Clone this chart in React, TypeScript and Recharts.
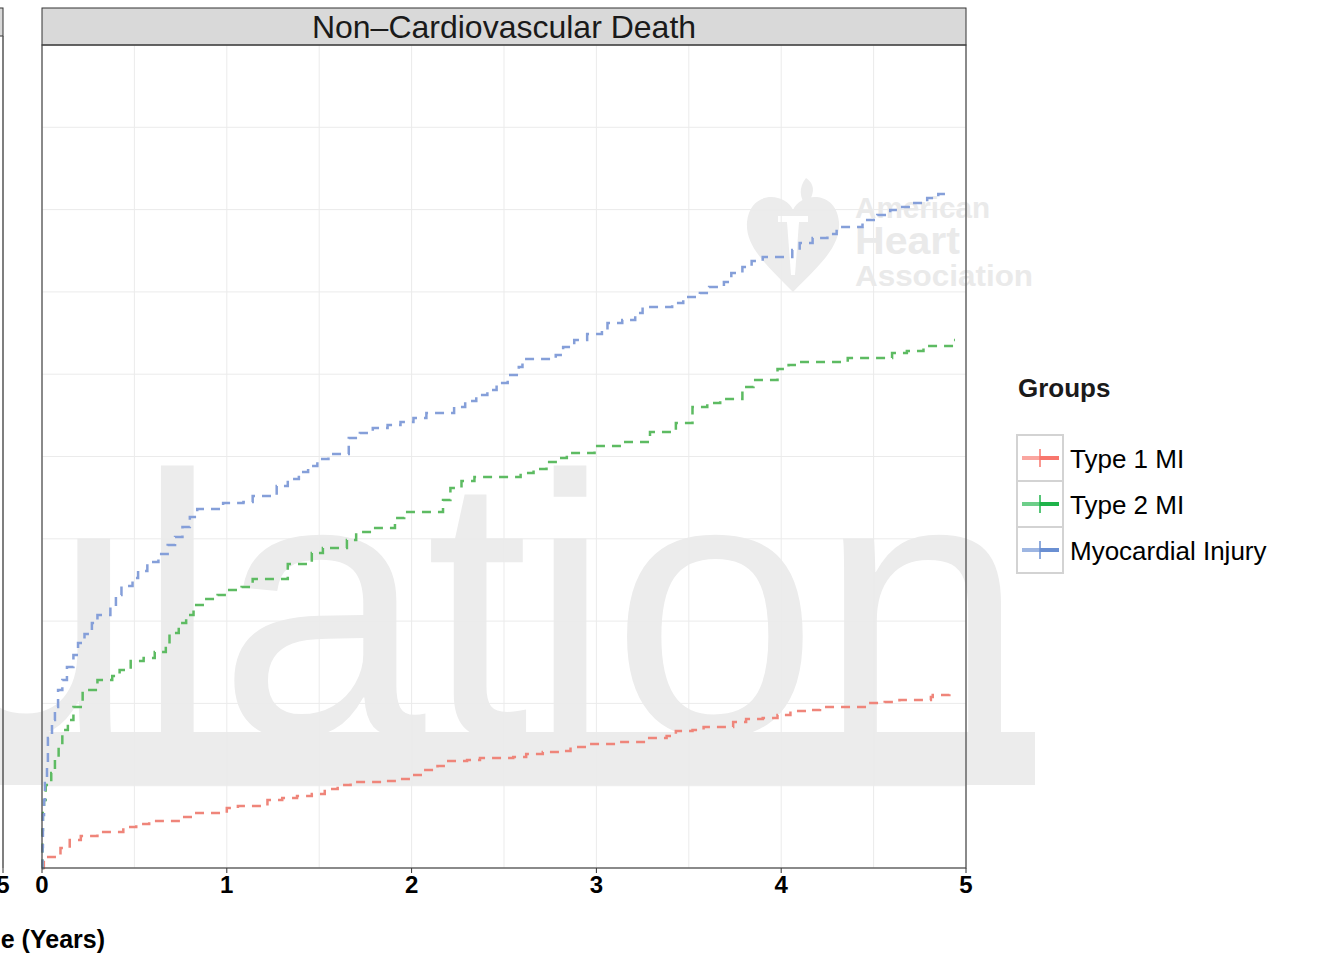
import React from "react";
import { CartesianGrid, Line, LineChart, XAxis, YAxis } from "recharts";

// cumulative incidence (%) of non-cardiovascular death, [years, percent]
const type1MI: [number, number][] = [
  [0, 0], [0.01, 0.67], [0.1, 1.22], [0.15, 1.7], [0.21, 1.94], [0.3, 2.19],
  [0.44, 2.49], [0.51, 2.67], [0.58, 2.86], [0.75, 3.1], [0.82, 3.34], [1.0, 3.65],
  [1.06, 3.77], [1.22, 4.13], [1.3, 4.25], [1.38, 4.37], [1.46, 4.5], [1.53, 4.8],
  [1.6, 5.04], [1.67, 5.22], [1.85, 5.29], [1.94, 5.41], [2.0, 5.65], [2.06, 5.95],
  [2.14, 6.2], [2.19, 6.5], [2.3, 6.56], [2.37, 6.68], [2.55, 6.74], [2.62, 6.93],
  [2.71, 7.05], [2.8, 7.11], [2.86, 7.35], [2.95, 7.53], [3.12, 7.65], [3.27, 7.9],
  [3.38, 8.02], [3.43, 8.32], [3.52, 8.38], [3.58, 8.57], [3.74, 8.87], [3.81, 9.05],
  [3.9, 9.11], [3.98, 9.3], [4.05, 9.54], [4.14, 9.6], [4.21, 9.78], [4.46, 10.02],
  [4.56, 10.09], [4.64, 10.21], [4.81, 10.39], [4.82, 10.51], [4.91, 10.57],
];

const type2MI: [number, number][] = [
  [0, 0], [0.003, 2.31], [0.005, 3.34], [0.011, 4.13], [0.02, 5.04], [0.05, 5.77],
  [0.07, 6.74], [0.09, 7.59], [0.11, 8.38], [0.14, 8.99], [0.17, 9.78], [0.22, 10.81],
  [0.3, 11.42], [0.38, 11.66], [0.42, 12.03], [0.48, 12.58], [0.55, 12.76], [0.61, 13.12],
  [0.67, 13.55], [0.69, 14.28], [0.74, 14.88], [0.78, 15.37], [0.82, 15.98], [0.88, 16.34],
  [0.95, 16.59], [1.0, 16.89], [1.08, 17.07], [1.14, 17.56], [1.33, 18.47], [1.46, 19.14],
  [1.52, 19.44], [1.65, 19.93], [1.7, 20.41], [1.79, 20.66], [1.91, 21.26], [1.96, 21.63],
  [2.17, 22.36], [2.21, 23.09], [2.27, 23.51], [2.34, 23.75], [2.59, 24.0], [2.66, 24.24],
  [2.73, 24.67], [2.79, 24.91], [2.84, 25.21], [2.99, 25.64], [3.14, 25.88], [3.29, 26.49],
  [3.43, 27.04], [3.52, 28.01], [3.6, 28.25], [3.67, 28.49], [3.79, 29.22], [3.85, 29.65],
  [3.98, 30.32], [4.04, 30.56], [4.1, 30.74], [4.36, 30.98], [4.6, 31.29], [4.68, 31.41],
  [4.77, 31.71], [4.93, 32.08], [4.94, 32.08],
];

const myocardialInjury: [number, number][] = [
  [0, 0], [0.003, 1.28], [0.005, 3.22], [0.011, 4.13], [0.016, 5.16], [0.027, 6.14],
  [0.032, 7.9], [0.054, 8.99], [0.07, 9.78], [0.087, 10.81], [0.11, 11.42], [0.135, 12.21],
  [0.17, 12.94], [0.195, 13.67], [0.23, 14.22], [0.27, 14.88], [0.3, 15.37], [0.37, 15.86],
  [0.4, 16.59], [0.43, 17.13], [0.49, 17.62], [0.52, 18.04], [0.57, 18.59], [0.63, 19.08],
  [0.68, 19.62], [0.72, 20.11], [0.76, 20.72], [0.8, 21.32], [0.84, 21.81], [0.98, 22.17],
  [1.09, 22.24], [1.14, 22.6], [1.27, 23.21], [1.33, 23.63], [1.39, 24.06], [1.44, 24.42],
  [1.49, 24.85], [1.55, 25.15], [1.66, 26.12], [1.72, 26.43], [1.79, 26.73], [1.87, 26.91],
  [1.94, 27.1], [2.01, 27.34], [2.08, 27.64], [2.23, 28.01], [2.29, 28.37], [2.35, 28.74],
  [2.41, 29.04], [2.46, 29.47], [2.52, 29.95], [2.58, 30.44], [2.6, 30.92], [2.78, 31.17],
  [2.82, 31.65], [2.88, 32.08], [2.95, 32.44], [3.03, 32.69], [3.06, 33.11], [3.14, 33.29],
  [3.21, 33.72], [3.25, 34.08], [3.41, 34.33], [3.47, 34.69], [3.56, 34.93], [3.61, 35.3],
  [3.69, 35.6], [3.73, 36.15], [3.79, 36.51], [3.84, 36.88], [3.9, 37.12], [4.06, 37.55],
  [4.1, 37.97], [4.17, 38.27], [4.25, 38.52], [4.3, 38.94], [4.44, 39.37], [4.52, 39.67],
  [4.59, 39.98], [4.64, 40.16], [4.71, 40.4], [4.79, 40.7], [4.85, 40.95], [4.9, 40.95],
];

const groups = [
  { name: "Type 1 MI", line: "#ef857a", key: "#f8766d", data: type1MI },
  { name: "Type 2 MI", line: "#5dbb62", key: "#1fb34a", data: type2MI },
  { name: "Myocardial Injury", line: "#859fd9", key: "#6a8fd2", data: myocardialInjury },
];

const xTicks = [0, 0.5, 1, 1.5, 2, 2.5, 3, 3.5, 4, 4.5, 5];
const yTicks = [0, 5, 10, 15, 20, 25, 30, 35, 40, 45, 50];
const panelTitle = "Non\u2013Cardiovascular Death";
const axisTitle = "Time (Years)";
const legendTitle = "Groups";

const W = 1331;
const H = 960;
const PL = 42;
const PR = 966;
const PT = 45;
const PB = 868;
const STRIP_TOP = 8;
const AXIS_H = 30;
const FONT = "'Liberation Sans', Arial, Helvetica, sans-serif";

function YearTick(props: any) {
  const { x, y, payload } = props;
  if (payload.value % 1 !== 0) return null;
  return (
    <g>
      <line x1={x} x2={x} y1={y - 5} y2={y} stroke="#333" strokeWidth={1} />
      <text x={x} y={y + 20} textAnchor="middle" fontSize={24} fontWeight="bold" fill="#000" fontFamily={FONT}>
        {payload.value}
      </text>
    </g>
  );
}

function Watermark() {
  return (
    <svg width={W} height={H} style={{ position: "absolute", left: 0, top: 0 }}>
      <text x={-71} y={735} fontSize={372} fontFamily={FONT} fill="#ececec">
        ulation
      </text>
      <rect x={0} y={732} width={1035} height={53} fill="#ececec" />
      {/* heart logo */}
      <path d="M806,178 C818,186 812,198 806,206 C800,198 798,188 806,178 Z" fill="#ececec" />
      <path
        d="M793,210 C785,192 750,190 747,222 C745,248 770,268 793,292 C816,268 841,248 839,222 C836,190 801,192 793,210 Z"
        fill="#ececec"
      />
      <rect x={778} y={216} width={30} height={6} fill="#fff" />
      <path d="M787,222 L799,222 L795,275 L791,275 Z" fill="#fff" />
      <g fontFamily={FONT} fontWeight="bold" fill="#eaeaea">
        <text x={855} y={218} fontSize={29} textLength={135} lengthAdjust="spacingAndGlyphs">American</text>
        <text x={855} y={254} fontSize={38} textLength={105} lengthAdjust="spacingAndGlyphs">Heart</text>
        <text x={855} y={286} fontSize={30} textLength={178} lengthAdjust="spacingAndGlyphs">Association</text>
      </g>
    </svg>
  );
}

function Overlay() {
  const lx = 1017;
  const ly = 435;
  const ks = 46;
  return (
    <svg width={W} height={H} style={{ position: "absolute", left: 0, top: 0, pointerEvents: "none" }}>
      {/* neighbouring panel sliver */}
      <rect x={-10} y={STRIP_TOP} width={13} height={28} fill="#d9d9d9" stroke="#333" strokeWidth={1} />
      <line x1={3} x2={3} y1={36} y2={PB} stroke="#555" strokeWidth={1.5} />
      <line x1={3} x2={3} y1={PB} y2={PB + 5} stroke="#333" />
      <text x={3} y={893} textAnchor="middle" fontSize={24} fontWeight="bold" fontFamily={FONT}>5</text>
      <text x={105} y={948} textAnchor="end" fontSize={25} fontWeight="bold" fontFamily={FONT}>{axisTitle}</text>

      {/* facet strip */}
      <rect x={PL} y={STRIP_TOP} width={PR - PL} height={PT - STRIP_TOP} fill="#d9d9d9" stroke="#333" strokeWidth={1} />
      <text x={(PL + PR) / 2} y={38} textAnchor="middle" fontSize={32} fill="#1a1a1a" fontFamily={FONT}>
        {panelTitle}
      </text>
      <rect x={PL} y={PT} width={PR - PL} height={PB - PT} fill="none" stroke="#444" strokeWidth={1.2} />

      {/* legend */}
      <text x={1018} y={397} fontSize={26} fontWeight="bold" fill="#1a1a1a" fontFamily={FONT}>{legendTitle}</text>
      {groups.map((g, i) => {
        const top = ly + i * ks;
        const cy = top + ks / 2;
        return (
          <g key={g.name}>
            <rect x={lx} y={top} width={ks} height={ks} fill="#fff" stroke="#d3d3d3" strokeWidth={2} />
            <line x1={lx + 5} x2={lx + 23} y1={cy} y2={cy} stroke={g.key} strokeOpacity={0.65} strokeWidth={4} />
            <line x1={lx + 23} x2={lx + 42} y1={cy} y2={cy} stroke={g.key} strokeWidth={4} />
            <line x1={lx + 23} x2={lx + 23} y1={cy - 9} y2={cy + 9} stroke={g.key} strokeWidth={1.5} />
            <text x={1070} y={cy + 10} fontSize={26} fill="#000" fontFamily={FONT}>{g.name}</text>
          </g>
        );
      })}
    </svg>
  );
}

export default function App() {
  const series = groups.map((g) => ({ ...g, rows: g.data.map(([t, y]) => ({ t, y })) }));
  return (
    <div style={{ position: "absolute", left: 0, top: 0, width: W, height: H, overflow: "hidden", background: "#fff" }}>
      <Watermark />
      <div style={{ position: "absolute", left: 0, top: 0 }}>
        <LineChart
          width={W}
          height={H}
          margin={{ top: PT, left: PL, right: W - PR, bottom: H - PB - AXIS_H }}
        >
          <CartesianGrid stroke="#ebebeb" strokeWidth={1} />
          <XAxis
            dataKey="t"
            type="number"
            domain={[0, 5]}
            ticks={xTicks}
            interval={0}
            height={AXIS_H}
            axisLine={false}
            tickLine={false}
            tickSize={5}
            tickMargin={0}
            tick={<YearTick />}
            allowDuplicatedCategory={false}
          />
          <YAxis hide type="number" domain={[0, 50]} ticks={yTicks} />
          {series.map((s) => (
            <Line
              key={s.name}
              data={s.rows}
              dataKey="y"
              name={s.name}
              type="stepAfter"
              stroke={s.line}
              strokeWidth={2.5}
              strokeDasharray="9 7"
              dot={false}
              activeDot={false}
              isAnimationActive={false}
            />
          ))}
        </LineChart>
      </div>
      <Overlay />
    </div>
  );
}
